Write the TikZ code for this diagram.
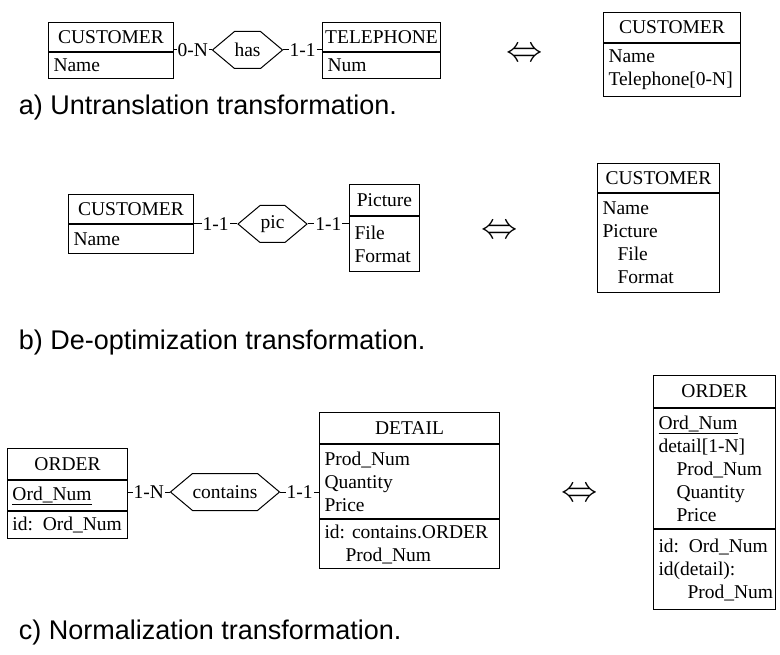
\documentclass[tikz,border=0pt]{standalone}
\usepackage{fontspec}
\setmainfont{Liberation Serif}
\newfontfamily\capfont{Liberation Sans}
\usetikzlibrary{shapes.symbols,positioning}

\begin{document}
\begin{tikzpicture}[x=1pt,y=-1pt,line width=1pt,
	every node/.style={font=\fontsize{19.5}{23}\selectfont},
	ent/.style 2 args={draw,anchor=north west,minimum width=#1,minimum height=#2,inner sep=0pt},
	att/.style 2 args={draw,text width=#1,minimum height=#2,inner xsep=5pt,inner ysep=0pt,align=left},
	rel/.style={draw,shape=signal,signal to=east and west,signal pointer angle=80,minimum width=#1,minimum height=37,inner sep=0pt},
	card/.style={fill=white,inner sep=1pt},
	equiv/.style={font=\fontsize{20}{20}\selectfont,scale=1.75},
	caption/.style={anchor=west,font=\capfont\fontsize{27}{30}\selectfont}]
		\useasboundingbox (0,0) rectangle (780,655);
		% a)
		\node[ent={125}{29}] (cust) at (48,22) {CUSTOMER};
		\node[att={115pt}{26},below=0pt of cust] (custatt) {Name};
		\node[rel=69] (has) at (247.5,50) {has};
		\node[ent={118}{29}] (tel) at (322,22) {TELEPHONE};
		\node[att={108pt}{26},below=0pt of tel] (telatt) {Num};
		\draw (cust.east |- has.west) -- node[card] {0-N} (has.west);
		\draw (has.east) -- node[card] {1-1} (tel.west |- has.east);
		\node[equiv] (eqa) at (525,55) {$\Leftrightarrow$};
		\node[ent={137}{30}] (custb) at (603,12) {CUSTOMER};
		\node[att={127pt}{53},below=0pt of custb] (custbatt) {Name\\Telephone[0-N]};
		\node[caption] (capa) at (15,108) {a) Untranslation transformation.};
		% b)
		\node[ent={125}{29}] (cust2) at (68,194) {CUSTOMER};
		\node[att={115pt}{29},below=0pt of cust2] (cust2att) {Name};
		\node[rel=69] (pic) at (272.5,224) {pic};
		\node[ent={70}{31}] (picture) at (349,184) {Picture};
		\node[att={60pt}{55},below=0pt of picture] (pictureatt) {File\\Format};
		\draw (cust2.east |- pic.west) -- node[card] {1-1} (pic.west);
		\draw (pic.east) -- node[card] {1-1} (picture.west |- pic.east);
		\node[equiv] (eqb) at (500,232) {$\Leftrightarrow$};
		\node[ent={122}{29}] (cust3) at (597,163) {CUSTOMER};
		\node[att={112pt}{99},below=0pt of cust3] (cust3att) {Name\\Picture\\\hspace*{15pt}File\\\hspace*{15pt}Format};
		\node[caption] (capb) at (15,343) {b) De-optimization transformation.};
		% c)
		\node[ent={120}{31}] (order) at (7,448) {ORDER};
		\node[att={110pt}{30},below=0pt of order] (orderatt) {\underline{Ord\_Num}};
		\node[att={110pt}{27},below=0pt of orderatt] (orderid) {id: Ord\_Num};
		\node[rel=104] (contains) at (225,492) {contains};
		\node[ent={180}{31}] (detail) at (319,412) {DETAIL};
		\node[att={170pt}{74},below=0pt of detail] (detailatt) {Prod\_Num\\Quantity\\Price};
		\node[att={170pt}{49},below=0pt of detailatt] (detailid) {id:\hspace{7pt}contains.ORDER\\\hspace*{21pt}Prod\_Num};
		\draw (orderatt.east |- contains.west) -- node[card] {1-N} (contains.west);
		\draw (contains.east) -- node[card] {1-1} (detail.west |- contains.east);
		\node[equiv] (eqc) at (580,495) {$\Leftrightarrow$};
		\node[ent={122}{32}] (order2) at (653,375) {ORDER};
		\node[att={112pt}{120},below=0pt of order2] (order2att) {\underline{Ord\_Num}\\detail[1-N]\\\hspace*{18pt}Prod\_Num\\\hspace*{18pt}Quantity\\\hspace*{18pt}Price};
		\node[att={112pt}{80},below=0pt of order2att] (order2id) {id: Ord\_Num\\id(detail):\\\hspace*{29pt}Prod\_Num};
		\node[caption] (capc) at (15,633) {c) Normalization transformation.};
\end{tikzpicture}
\end{document}
